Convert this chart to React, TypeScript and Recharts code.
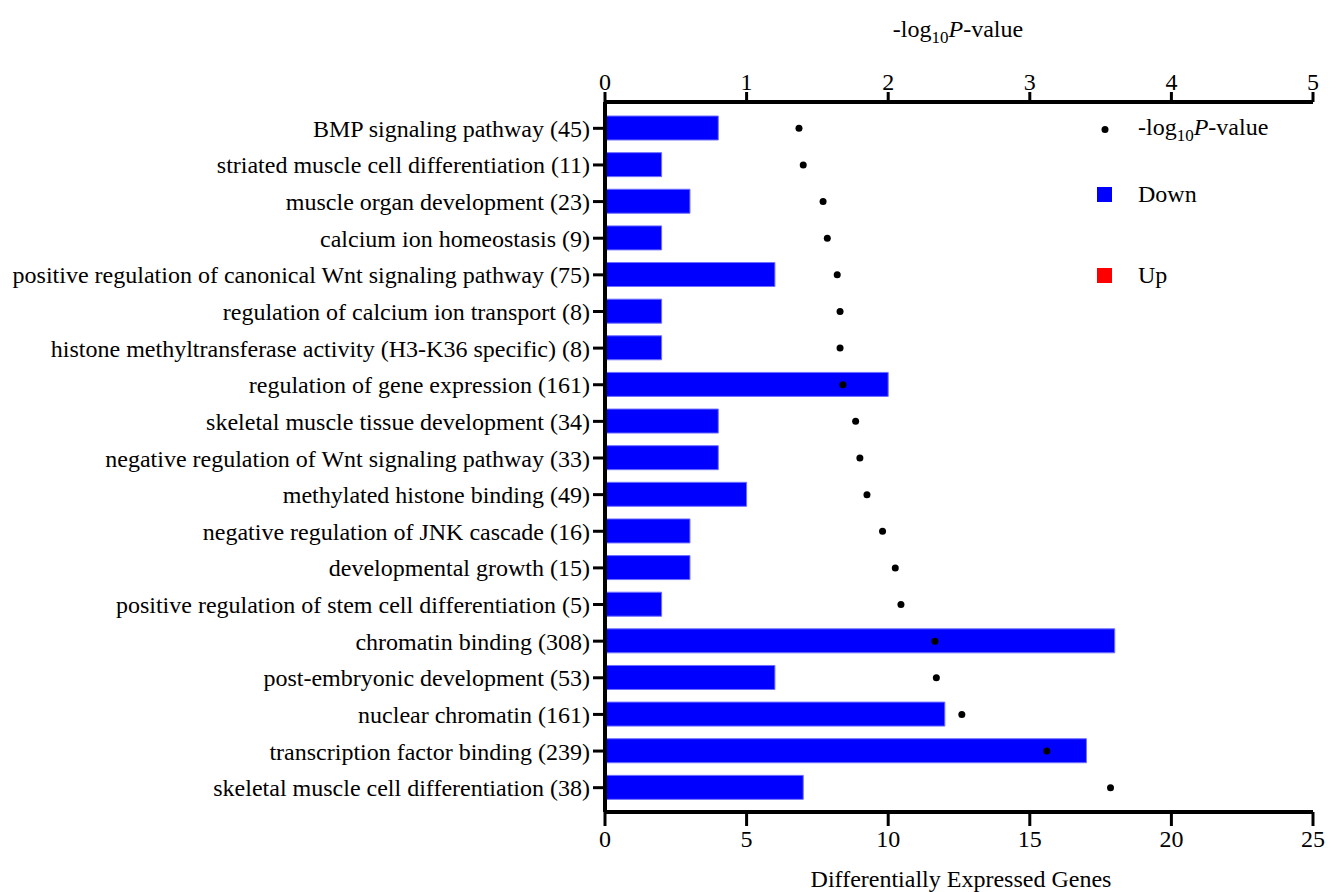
import React from "react";
import { ComposedChart, Bar, Line, XAxis, YAxis } from "recharts";

const terms = [
  "BMP signaling pathway (45)",
  "striated muscle cell differentiation (11)",
  "muscle organ development (23)",
  "calcium ion homeostasis (9)",
  "positive regulation of canonical Wnt signaling pathway (75)",
  "regulation of calcium ion transport (8)",
  "histone methyltransferase activity (H3-K36 specific) (8)",
  "regulation of gene expression (161)",
  "skeletal muscle tissue development (34)",
  "negative regulation of Wnt signaling pathway (33)",
  "methylated histone binding (49)",
  "negative regulation of JNK cascade (16)",
  "developmental growth (15)",
  "positive regulation of stem cell differentiation (5)",
  "chromatin binding (308)",
  "post-embryonic development (53)",
  "nuclear chromatin (161)",
  "transcription factor binding (239)",
  "skeletal muscle cell differentiation (38)",
];

// down-regulated gene counts (bottom axis)
const downGenes = [4, 2, 3, 2, 6, 2, 2, 10, 4, 4, 5, 3, 3, 2, 18, 6, 12, 17, 7];

// -log10 P-value (top axis)
const logP = [
  1.37, 1.4, 1.54, 1.57, 1.64, 1.66, 1.66, 1.68, 1.77, 1.8, 1.85, 1.96, 2.05,
  2.09, 2.33, 2.34, 2.52, 3.12, 3.57,
];

const geneTicks = [0, 5, 10, 15, 20, 25];
const pTicks = [0, 1, 2, 3, 4, 5];

const data = terms.map((name, i) => ({ name, down: downGenes[i], logP: logP[i] }));

const FONT = "Liberation Serif, Times New Roman, serif";

const TopTitle = () => (
  <text x={958} y={37} textAnchor="middle" fontFamily={FONT} fontSize={24} fill="#000">
    -log
    <tspan dy={6} fontSize={17}>10</tspan>
    <tspan dy={-6} fontStyle="italic">P</tspan>
    -value
  </text>
);

const BottomTitle = () => (
  <text x={961} y={887} textAnchor="middle" fontFamily={FONT} fontSize={24} fill="#000">
    Differentially Expressed Genes
  </text>
);

const legendRow: React.CSSProperties = {
  position: "absolute",
  left: 1097,
  display: "flex",
  alignItems: "center",
  fontFamily: FONT,
  fontSize: 24,
  color: "#000",
  whiteSpace: "nowrap",
};

export default function App() {
  const axisLine = { stroke: "#000", strokeWidth: 4 };
  const tickLine = { stroke: "#000", strokeWidth: 3 };
  const tick = { fontSize: 24, fill: "#000", fontFamily: FONT };
  return (
    <div style={{ position: "absolute", left: 0, top: 0, width: 1339, height: 892, fontFamily: FONT }}>
      <ComposedChart
        width={1339}
        height={892}
        data={data}
        layout="vertical"
        margin={{ top: 0, right: 26, bottom: 0, left: 0 }}
        style={{ fontFamily: FONT }}
      >
        <XAxis
          xAxisId="top"
          orientation="top"
          type="number"
          domain={[0, 5]}
          ticks={pTicks}
          height={102}
          tickSize={10}
          tickMargin={2}
          axisLine={axisLine}
          tickLine={tickLine}
          tick={tick}
          label={<TopTitle />}
        />
        <XAxis
          xAxisId="bottom"
          orientation="bottom"
          type="number"
          domain={[0, 25]}
          ticks={geneTicks}
          height={80}
          tickSize={14}
          tickMargin={4}
          axisLine={axisLine}
          tickLine={tickLine}
          tick={tick}
          label={<BottomTitle />}
        />
        <YAxis
          type="category"
          dataKey="name"
          width={605}
          interval={0}
          tickSize={12}
          tickMargin={3}
          axisLine={axisLine}
          tickLine={tickLine}
          tick={tick}
          padding={{ top: 8, bottom: 6 }}
        />
        <Bar
          xAxisId="bottom"
          dataKey="down"
          fill="#0000ff"
          stroke="#7070ff"
          strokeWidth={1}
          barSize={24}
          isAnimationActive={false}
        />
        <Line
          xAxisId="top"
          dataKey="logP"
          stroke="none"
          dot={{ r: 3.5, fill: "#000", stroke: "none" }}
          activeDot={false}
          isAnimationActive={false}
        />
      </ComposedChart>
      <div style={{ ...legendRow, top: 114 }}>
        <svg width={15} height={15} style={{ marginRight: 26 }}>
          <circle cx={8} cy={7.5} r={3.5} fill="#000" />
        </svg>
        <span>
          -log<sub style={{ fontSize: 17 }}>10</sub>
          <i>P</i>-value
        </span>
      </div>
      <div style={{ ...legendRow, top: 181 }}>
        <svg width={15} height={15} style={{ marginRight: 26 }}>
          <rect x={0} y={0} width={15} height={15} fill="#0000ff" />
        </svg>
        <span>Down</span>
      </div>
      <div style={{ ...legendRow, top: 262 }}>
        <svg width={15} height={15} style={{ marginRight: 26 }}>
          <rect x={0} y={0} width={15} height={15} fill="#ff0000" />
        </svg>
        <span>Up</span>
      </div>
    </div>
  );
}
